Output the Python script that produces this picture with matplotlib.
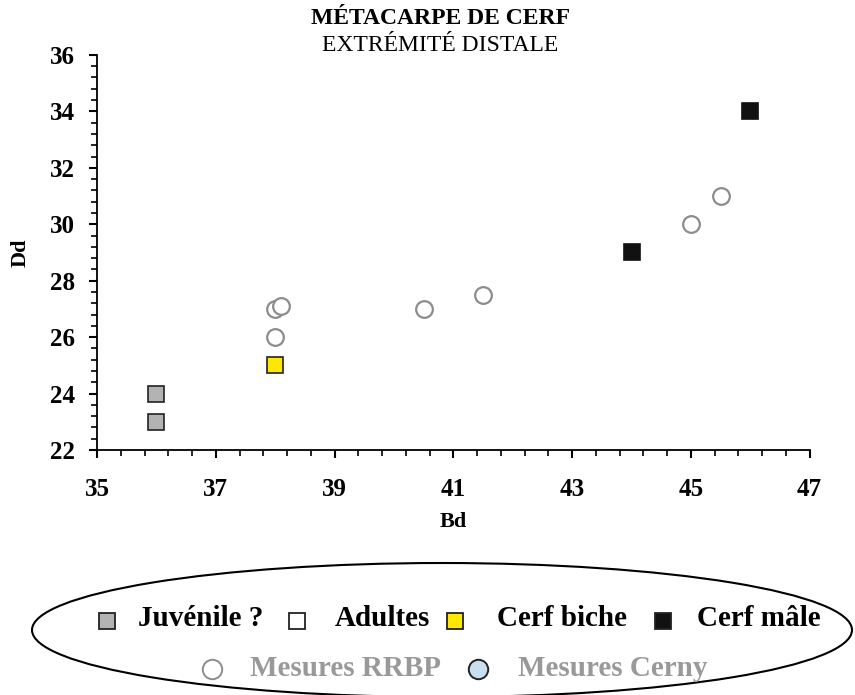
import matplotlib.pyplot as plt
from matplotlib.patches import Ellipse
from matplotlib.ticker import MultipleLocator

plt.rcParams['font.family'] = ['Liberation Serif', 'DejaVu Serif']

# données (Bd, Dd)
juv_bd = [36, 36]
juv_dd = [24, 23]
biche_bd = [38]
biche_dd = [25]
male_bd = [44, 46]
male_dd = [29, 34]
rrbp_bd = [38, 38.1, 38, 40.5, 41.5, 45, 45.5]
rrbp_dd = [27, 27.1, 26, 27, 27.5, 30, 31]

fig = plt.figure(figsize=(8.55, 6.95), dpi=100)
ax = fig.add_axes([0.1135, 0.3525, 0.8335, 0.5685])

ax.plot(rrbp_bd, rrbp_dd, 'o', ms=12, mfc='white', mec='#8c8c8c', mew=1.6, ls='none')
ax.plot(juv_bd, juv_dd, 's', ms=11.5, mfc='#b3b3b3', mec='#222222', mew=1.2, ls='none')
ax.plot(biche_bd, biche_dd, 's', ms=11.5, mfc='#ffe800', mec='#222222', mew=1.2, ls='none')
ax.plot(male_bd, male_dd, 's', ms=11.5, mfc='#111111', mec='#111111', mew=1.2, ls='none')

ax.set_xlim(35, 47)
ax.set_ylim(22, 36)
ax.xaxis.set_major_locator(MultipleLocator(2, offset=1))
ax.xaxis.set_minor_locator(MultipleLocator(0.4, offset=0.2))
ax.yaxis.set_major_locator(MultipleLocator(2))
ax.yaxis.set_minor_locator(MultipleLocator(0.4))
for s in ['top', 'right']:
    ax.spines[s].set_visible(False)
for s in ['left', 'bottom']:
    ax.spines[s].set_linewidth(1.3)
ax.tick_params(which='major', length=6, width=1.5, labelsize=18)
ax.tick_params(axis='x', which='major', pad=14)
ax.tick_params(axis='y', which='major', pad=10)
ax.tick_params(which='minor', length=4, width=1.2)
for lab in ax.get_xticklabels() + ax.get_yticklabels():
    lab.set_fontweight('bold')
ax.set_xlabel('Bd', fontsize=16, fontweight='bold', labelpad=8)
ax.set_ylabel('Dd', fontsize=16, fontweight='bold', labelpad=14)

fig.text(0.515, 0.974, 'MÉTACARPE DE CERF', ha='center', va='center',
         fontsize=17, fontweight='bold')
fig.text(0.515, 0.935, 'EXTRÉMITÉ DISTALE', ha='center', va='center', fontsize=17)

# légende dans une ellipse
lg = fig.add_axes([0, 0, 1, 1], facecolor='none')
lg.set_xlim(0, 855)
lg.set_ylim(695, 0)
lg.axis('off')
lg.add_patch(Ellipse((442, 630), 820, 134, fill=False, ec='black', lw=1.5))

row1 = [('Juvénile ?', '#b3b3b3', 107, 138),
        ('Adultes', 'white', 297, 335),
        ('Cerf biche', '#ffe800', 455, 497),
        ('Cerf mâle', '#111111', 663, 697)]
for txt, col, xm, xt in row1:
    lg.plot([xm], [621], 's', ms=11, mfc=col, mec='#222222', mew=1.3)
    lg.text(xt, 619, txt, ha='left', va='center', fontsize=21, fontweight='bold')

row2 = [('Mesures RRBP', 'white', '#8c8c8c', 212, 250),
        ('Mesures Cerny', '#c9dff0', '#222222', 478, 518)]
for txt, col, ec, xm, xt in row2:
    lg.plot([xm], [669], 'o', ms=14, mfc=col, mec=ec, mew=1.4)
    lg.text(xt, 668, txt, ha='left', va='center', fontsize=21, fontweight='bold',
            color='#999999')

fig.savefig('out.png', dpi=100)
